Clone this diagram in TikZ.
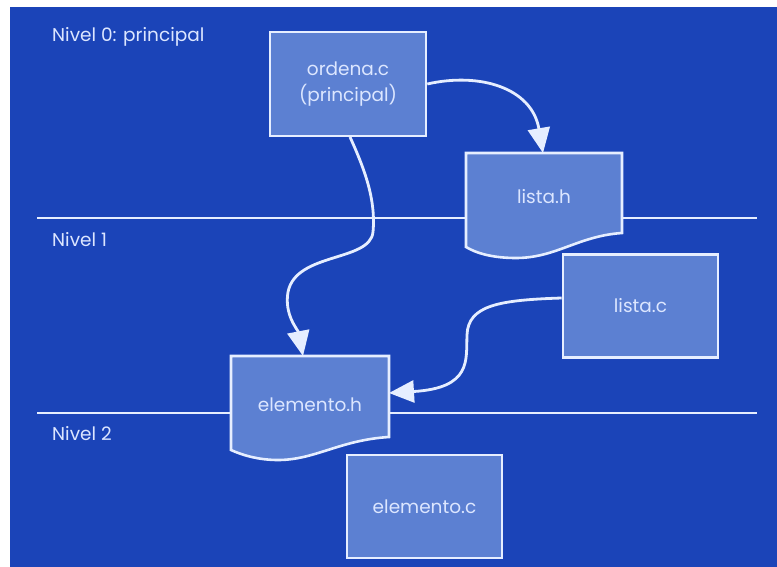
\documentclass[tikz,border=0pt]{standalone}
\usepackage{fontspec}
\setmainfont{Poppins}
\usetikzlibrary{arrows.meta}
\definecolor{bgblue}{HTML}{1B44B8}
\definecolor{boxblue}{HTML}{5C80D2}
\definecolor{linew}{HTML}{E6EEFF}
\definecolor{txtc}{HTML}{DCE6FF}
\begin{document}
\begin{tikzpicture}[x=1pt,y=-1pt,
  filebox/.style={draw=linew,fill=boxblue,line width=2.6pt,minimum width=155pt,minimum height=103pt,text=txtc,font=\fontsize{18.5}{23}\selectfont,align=center,inner sep=0pt},
  docshape/.style={draw=linew,fill=boxblue,line width=2.6pt},
  lvl/.style={draw=linew,line width=2.4pt},
  lbl/.style={text=txtc,font=\fontsize{18.5}{23}\selectfont,anchor=west,inner sep=0pt},
  doctext/.style={text=txtc,font=\fontsize{18.5}{23}\selectfont,inner sep=0pt},
  conn/.style={draw=linew,line width=2.8pt,-{Triangle[width=22pt,length=25pt]}}]
\useasboundingbox (0,0) rectangle (777,567);
\fill[white] (0,0) rectangle (777,567);
\fill[bgblue] (10,7) rectangle (777,567);
% level lines
\draw[lvl] (37,218) -- (757,218);
\draw[lvl] (37,413) -- (757,413);
% level labels
\node[lbl] (n0) at (52,37) {Nivel 0: principal};
\node[lbl] (n1) at (52,240) {Nivel 1};
\node[lbl] (n2) at (52,434) {Nivel 2};
% ordena.c
\node[filebox,minimum width=156pt,minimum height=104pt] (ordena) at (348,84) {ordena.c\\[3pt](principal)};
% lista.h document
\draw[docshape] (466,153) -- (622,153) -- (622,233)
  .. controls (578,236) and (556,258) .. (516,258)
  .. controls (492,258) and (476,253) .. (466,247) -- cycle;
\node[doctext] (listah) at (544,197) {lista.h};
\coordinate (listahtop) at (543,153);
% lista.c
\node[filebox] (listac) at (640.5,306) {lista.c};
% elemento.h document
\draw[docshape] (231,356) -- (389,356) -- (389,437)
  .. controls (340,440) and (315,460) .. (278,460)
  .. controls (258,460) and (242,455) .. (231,450) -- cycle;
\node[doctext] (elementoh) at (310,405) {elemento.h};
\coordinate (elemhtop) at (303,356);
\coordinate (elemhright) at (389,393);
% elemento.c
\node[filebox] (elementoc) at (424.5,506.5) {elemento.c};
% connectors
\draw[conn] (ordena.east |- 0,84) .. controls (480,72) and (532,88) .. (listahtop);
\draw[conn] (350,137) .. controls (365,170) and (376,200) .. (373,232)
  .. controls (370,262) and (296,252) .. (288,292)
  .. controls (284,315) and (298,330) .. (elemhtop);
\draw[conn] (listac.west |- 0,298) .. controls (500,300) and (468,305) .. (467,335)
  .. controls (466,360) and (472,388) .. (elemhright);
\end{tikzpicture}
\end{document}
